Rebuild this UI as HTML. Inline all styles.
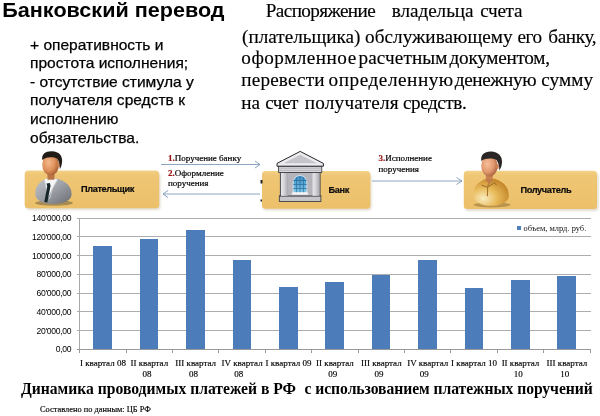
<!DOCTYPE html>
<html lang="ru"><head><meta charset="utf-8"><title>Банковский перевод</title>
<style>
html,body{margin:0;padding:0;background:#fff;}
body{width:600px;height:416px;position:relative;overflow:hidden;font-family:"Liberation Sans",sans-serif;color:#111;}
.abs{position:absolute;white-space:nowrap;}
#title{transform:scaleY(0.955);transform-origin:0 0;left:2.3px;top:-1px;font-size:21.6px;font-weight:bold;line-height:24px;color:#000;}
#left{left:30px;top:35.8px;font-size:15.55px;line-height:18.55px;color:#000;-webkit-text-stroke:0.25px #000;}
#right{left:242px;top:5px;font-family:"Liberation Serif",serif;font-size:19.2px;line-height:22px;color:#000;-webkit-text-stroke:0.15px #000;}
.rl{position:absolute;left:0;white-space:nowrap;}
.box{position:absolute;background:#f3c96f;border-radius:5px;}
.blab{position:absolute;font-size:9.2px;letter-spacing:-0.36px;font-weight:bold;color:#0c0c0c;white-space:nowrap;line-height:10px;-webkit-text-stroke:0.2px #0c0c0c;}
.alab{position:absolute;font-family:"Liberation Serif",serif;font-size:9px;line-height:10px;color:#000;white-space:nowrap;-webkit-text-stroke:0.2px #000;}
.alab b{color:#9a1818;-webkit-text-stroke:0.2px #9a1818;}
.ytick{position:absolute;font-size:8.6px;letter-spacing:-0.3px;color:#000;width:60px;text-align:right;left:11.3px;line-height:10px;}
.xlab{position:absolute;font-family:"Liberation Serif",serif;font-size:9px;line-height:11.3px;color:#000;-webkit-text-stroke:0.15px #000;text-align:center;width:46px;top:357.8px;white-space:nowrap;}
.bar{position:absolute;background:#4c7dba;width:18.6px;}
.grid{position:absolute;left:77px;width:513.5px;height:1px;background:#adadad;}
#caption,#caption2{top:379.3px;font-family:"Liberation Serif",serif;font-weight:bold;font-size:15.65px;line-height:20px;color:#000;}
#caption{left:21px;}#caption2{left:304.5px;letter-spacing:-0.05px;}
#foot{left:40px;top:405px;font-family:"Liberation Serif",serif;font-size:8.4px;line-height:10px;color:#000;-webkit-text-stroke:0.15px #000;}
</style></head><body>
<div id="title" class="abs">Банковский перевод</div>
<div id="left" class="abs">+ оперативность и<br>простота исполнения;<br>- отсутствие стимула у<br>получателя средств к<br>исполнению<br>обязательства.</div>
<div id="right" class="abs">
<span class="rl" style="top:-5.0px;left:23.8px;letter-spacing:-0.61px;">Распоряжение</span>
<span class="rl" style="top:-5.0px;left:149.8px;letter-spacing:-0.07px;">владельца</span>
<span class="rl" style="top:-5.0px;left:238.3px;letter-spacing:-0.33px;">счета</span>
<span class="rl" style="top:20.8px;left:0.0px;letter-spacing:0.00px;">(плательщика)</span>
<span class="rl" style="top:20.8px;left:123.0px;letter-spacing:0.05px;">обслуживающему</span>
<span class="rl" style="top:20.8px;left:275.5px;letter-spacing:-0.51px;">его</span>
<span class="rl" style="top:20.8px;left:306.2px;letter-spacing:-0.32px;">банку,</span>
<span class="rl" style="top:42.4px;left:-0.7px;letter-spacing:0.48px;">оформленное</span>
<span class="rl" style="top:42.4px;left:116.5px;letter-spacing:0.10px;">расчетным</span>
<span class="rl" style="top:42.4px;left:207.6px;letter-spacing:-0.26px;">документом,</span>
<span class="rl" style="top:64.4px;left:-0.7px;letter-spacing:0.15px;">перевести</span>
<span class="rl" style="top:64.4px;left:86.6px;letter-spacing:0.55px;">определенную</span>
<span class="rl" style="top:64.4px;left:212.8px;letter-spacing:-0.40px;">денежную</span>
<span class="rl" style="top:64.4px;left:299.2px;letter-spacing:0.13px;">сумму</span>
<span class="rl" style="top:87.4px;left:-0.7px;letter-spacing:-0.10px;">на</span>
<span class="rl" style="top:87.4px;left:23.2px;letter-spacing:-0.50px;">счет</span>
<span class="rl" style="top:87.4px;left:62.7px;letter-spacing:0.25px;">получателя</span>
<span class="rl" style="top:87.4px;left:161.0px;letter-spacing:-0.46px;">средств.</span>
</div>

<!-- diagram -->
<svg class="abs" style="left:0;top:0;" width="600" height="416" viewBox="0 0 600 416">
<defs>
<linearGradient id="gbox" x1="0" y1="0" x2="0" y2="1"><stop offset="0" stop-color="#f3d287"/><stop offset="0.12" stop-color="#efc675"/><stop offset="1" stop-color="#ecc06a"/></linearGradient>
<radialGradient id="gskin" cx="0.38" cy="0.4" r="0.75"><stop offset="0" stop-color="#f4b98c"/><stop offset="0.5" stop-color="#df915c"/><stop offset="1" stop-color="#8e4a22"/></radialGradient>
<linearGradient id="gsuit" x1="0" y1="0" x2="1" y2="1"><stop offset="0" stop-color="#c3c7cc"/><stop offset="0.5" stop-color="#9b9ea4"/><stop offset="1" stop-color="#686b70"/></linearGradient>
<radialGradient id="ggold" cx="0.28" cy="0.72" r="0.85"><stop offset="0" stop-color="#f8ecc0"/><stop offset="0.45" stop-color="#e8ba5a"/><stop offset="1" stop-color="#bd7c20"/></radialGradient>
<radialGradient id="gskin2" cx="0.38" cy="0.4" r="0.75"><stop offset="0" stop-color="#f6bf9a"/><stop offset="0.5" stop-color="#e39a70"/><stop offset="1" stop-color="#96502c"/></radialGradient>
<linearGradient id="gcol" x1="0" y1="0" x2="1" y2="0"><stop offset="0" stop-color="#e9e9ec"/><stop offset="0.5" stop-color="#d2d2d6"/><stop offset="1" stop-color="#a9a9ae"/></linearGradient>
<linearGradient id="gwin" x1="0" y1="0" x2="0" y2="1"><stop offset="0" stop-color="#3d8fc4"/><stop offset="1" stop-color="#7cc6ea"/></linearGradient>
<filter id="blur1" x="-20%" y="-20%" width="140%" height="140%"><feGaussianBlur stdDeviation="1.2"/></filter>
<filter id="blur03" x="-10%" y="-10%" width="120%" height="120%"><feGaussianBlur stdDeviation="0.3"/></filter>
<filter id="blur05" x="-20%" y="-20%" width="140%" height="140%"><feGaussianBlur stdDeviation="0.5"/></filter>
</defs>
<!-- box shadows -->
<g filter="url(#blur1)" fill="#d9d3c4" opacity="0.8">
<rect x="26" y="173" width="134.500" height="37" rx="4"/>
<rect x="263" y="174" width="108.500" height="36.500" rx="4"/>
<rect x="465" y="173" width="133.500" height="38" rx="4"/>
</g>
<!-- boxes -->
<rect x="24.700" y="170.500" width="134.500" height="37.800" rx="3.500" fill="url(#gbox)"/>
<rect x="262" y="171" width="108.400" height="37.800" rx="3.500" fill="url(#gbox)"/>
<rect x="463.800" y="170.800" width="133.200" height="38.300" rx="3.500" fill="url(#gbox)"/>
<!-- arrows -->
<g stroke="#7f9bb9" stroke-width="0.9" fill="none">
<path d="M161,164.5 H260 M255,161 L260,164.500 L255,168"/>
<path d="M260,194 H163 M168,190.500 L163,194 L168,197.500"/>
<path d="M372,181 H462 M456.500,177.500 L462,181 L456.500,184.500"/>
</g>
<g fill="#222"><rect x="260.500" y="180" width="2" height="3.500"/><rect x="260.500" y="199.500" width="1.500" height="2"/></g>

<!-- person 1 -->
<g filter="url(#blur05)" transform="translate(0,151) scale(1,1.045) translate(0,-151)">
<ellipse cx="54" cy="200.800" rx="19" ry="2.600" fill="#6e5f3f" opacity="0.550"/>
<path d="M35.300,192.500 C35,184 40,179.800 47.300,177.300 L56.700,177.300 C65,179.800 71.800,184 71.600,192.500 C71.600,198.500 63.500,201.800 53.500,201.800 C43.500,201.800 35.300,198.500 35.300,192.500 Z" fill="url(#gsuit)"/>
<path d="M44.300,178.300 L51.500,176 L57.500,178.300 L52.500,187 L48,195.500 L46,186 Z" fill="#f6f6f6"/>
<path d="M44.300,178.300 L46,186 L47.500,197 M57.500,178.300 L52.500,187 L49.500,197" stroke="#c9ccd1" stroke-width="0.900" fill="none"/>
<path d="M46.600,182 L49.800,181.600 L50.600,184.300 L47.300,200.300 L44.300,199.800 L47.200,185 Z" fill="#17282b"/>
<rect x="47.500" y="171" width="7" height="7.500" fill="#b97446"/>
<ellipse cx="50.600" cy="164" rx="8.400" ry="10.300" fill="url(#gskin)"/>
<ellipse cx="58.700" cy="164.300" rx="1.400" ry="2.500" fill="#cf8552"/>
<path d="M42.300,159.500 C41.300,153.800 45.500,151 52,151.200 C59,151.400 62.600,155.500 62.100,161 C61.900,164.500 60.800,167 59.800,168.500 C60,164.500 59.300,160.800 57.300,158.300 C53,156.600 47,156.300 42.300,159.500 Z" fill="#241c19"/>
</g>

<!-- person 2 -->
<g filter="url(#blur05)" transform="translate(0,151) scale(1,1.05) translate(0,-151)">
<ellipse cx="492" cy="202.300" rx="18.500" ry="2.600" fill="#8a6a30" opacity="0.500"/>
<path d="M473.600,193.500 C473.400,185 478,180.500 486,177.500 L495,177.500 C503,180.500 509,185 508.800,193.500 C508.800,199.500 501,203.200 491.200,203.200 C481.500,203.200 473.600,199.500 473.600,193.500 Z" fill="url(#ggold)"/>
<path d="M481.500,183.500 L487.500,185.500 L488.500,182 M487.500,185.500 L494.500,181 L496.500,183.500 M487.600,185.500 L487.400,194" stroke="#a8752b" stroke-width="1.100" fill="none"/>
<rect x="485.800" y="172" width="7" height="8" fill="#c8824f"/>
<path d="M485.800,178 L489.500,183 L492.800,178 Z" fill="#c07a48"/>
<ellipse cx="489.400" cy="165.300" rx="8.200" ry="10" fill="url(#gskin2)"/>
<ellipse cx="497.500" cy="165.800" rx="1.400" ry="2.500" fill="#cf8552"/>
<path d="M481.300,160.500 C480.300,154.500 484.500,151.200 491,151.400 C498.500,151.700 502.500,156 502,162 C501.800,165.500 500.500,168 499.300,169.500 C499.500,165.500 498.500,162 496.500,159.500 C492,157.800 486,157.500 481.300,160.500 Z" fill="#2b2826"/>
</g>

<!-- bank -->
<g filter="url(#blur03)">
<rect x="279.300" y="195.800" width="41.600" height="5.700" fill="#c6c6ca" stroke="#2e2e32" stroke-width="0.800"/>
<rect x="280.300" y="172" width="39.800" height="24" fill="#b4b4ba" stroke="#2e2e32" stroke-width="0.800"/>
<rect x="281" y="172.300" width="6.800" height="23.500" fill="url(#gcol)"/>
<rect x="312.600" y="172.300" width="6.800" height="23.500" fill="url(#gcol)"/>
<rect x="278.600" y="166" width="43.200" height="6.500" fill="#d8d8dc" stroke="#2e2e32" stroke-width="0.800"/>
<path d="M279,168.200 H321.400 M279,170.300 H321.400" stroke="#9d9da3" stroke-width="0.600"/>
<path d="M277,163.400 L300.200,151.400 L323.400,163.400 L323.400,166.200 L277,166.200 Z" fill="#ececef" stroke="#242428" stroke-width="1" stroke-linejoin="round"/>
<path d="M283.500,163.300 L300.200,154.800 L316.900,163.300 Z" fill="#c4c4ca"/>
<path d="M293.200,192.500 V182.300 A6.800,6.800 0 0 1 306.800,182.300 V192.500 Z" fill="url(#gwin)" stroke="#dfe8f0" stroke-width="0.900"/>
<path d="M296.600,177.300 V192.500 M300,176 V192.500 M303.400,177.300 V192.500 M293.200,180.500 H306.800 M293.200,184.500 H306.800 M293.200,188.500 H306.800" stroke="#1f5f8f" stroke-width="0.700" opacity="0.850"/>
<rect x="291.800" y="192.500" width="16.400" height="2.200" fill="#f4f4f6"/>
</g>
</svg>
<div class="blab" style="left:81px;top:184.300px;">Плательщик</div>
<div class="blab" style="left:328.500px;top:185.200px;">Банк</div>
<div class="blab" style="left:520.500px;top:184.500px;">Получатель</div>
<div class="alab" style="left:168px;top:153px;"><b>1.</b>Поручение банку</div>
<div class="alab" style="left:168px;top:168px;"><b>2.</b>Оформление<br>поручения</div>
<div class="alab" style="left:378.5px;top:153px;line-height:11px;"><b>3.</b>Исполнение<br>поручения</div>

<!-- chart -->
<div id="chart">
<div class="grid" style="top:348.9px;background:#9a9a9a;"></div>
<div class="ytick" style="top:344.2px;">0,00</div>
<div class="grid" style="top:330.2px;"></div>
<div class="ytick" style="top:325.5px;">20'000,00</div>
<div class="grid" style="top:311.4px;"></div>
<div class="ytick" style="top:306.7px;">40'000,00</div>
<div class="grid" style="top:292.7px;"></div>
<div class="ytick" style="top:288.0px;">60'000,00</div>
<div class="grid" style="top:273.9px;"></div>
<div class="ytick" style="top:269.2px;">80'000,00</div>
<div class="grid" style="top:255.2px;"></div>
<div class="ytick" style="top:250.5px;">100'000,00</div>
<div class="grid" style="top:236.4px;"></div>
<div class="ytick" style="top:231.7px;">120'000,00</div>
<div class="grid" style="top:217.7px;"></div>
<div class="ytick" style="top:213.0px;">140'000,00</div>
<div style="position:absolute;left:79.2px;top:218.2px;width:1px;height:131.2px;background:#a8a8a8;"></div>
<div class="bar" style="left:93.4px;top:246.3px;height:103.1px;"></div>
<div class="xlab" style="left:79.9px;">I квартал 08</div>
<div style="position:absolute;left:79.2px;top:349.4px;width:1px;height:4px;background:#9a9a9a;"></div>
<div class="bar" style="left:139.8px;top:238.8px;height:110.6px;"></div>
<div class="xlab" style="left:126.3px;">II квартал<br>08&nbsp;&nbsp;</div>
<div style="position:absolute;left:125.6px;top:349.4px;width:1px;height:4px;background:#9a9a9a;"></div>
<div class="bar" style="left:186.2px;top:230.4px;height:119.0px;"></div>
<div class="xlab" style="left:172.7px;">III квартал<br>08&nbsp;&nbsp;</div>
<div style="position:absolute;left:172.0px;top:349.4px;width:1px;height:4px;background:#9a9a9a;"></div>
<div class="bar" style="left:232.6px;top:260.4px;height:89.0px;"></div>
<div class="xlab" style="left:219.1px;">IV квартал<br>08&nbsp;&nbsp;&nbsp;</div>
<div style="position:absolute;left:218.4px;top:349.4px;width:1px;height:4px;background:#9a9a9a;"></div>
<div class="bar" style="left:279.0px;top:286.6px;height:62.8px;"></div>
<div class="xlab" style="left:265.5px;">I квартал 09</div>
<div style="position:absolute;left:264.8px;top:349.4px;width:1px;height:4px;background:#9a9a9a;"></div>
<div class="bar" style="left:325.4px;top:281.9px;height:67.5px;"></div>
<div class="xlab" style="left:311.9px;">II квартал<br>09&nbsp;&nbsp;</div>
<div style="position:absolute;left:311.2px;top:349.4px;width:1px;height:4px;background:#9a9a9a;"></div>
<div class="bar" style="left:371.8px;top:275.4px;height:74.0px;"></div>
<div class="xlab" style="left:358.3px;">III квартал<br>09&nbsp;&nbsp;</div>
<div style="position:absolute;left:357.6px;top:349.4px;width:1px;height:4px;background:#9a9a9a;"></div>
<div class="bar" style="left:418.2px;top:260.4px;height:89.0px;"></div>
<div class="xlab" style="left:404.7px;">IV квартал<br>09&nbsp;&nbsp;&nbsp;</div>
<div style="position:absolute;left:404.0px;top:349.4px;width:1px;height:4px;background:#9a9a9a;"></div>
<div class="bar" style="left:464.6px;top:287.5px;height:61.9px;"></div>
<div class="xlab" style="left:451.1px;">I квартал 10</div>
<div style="position:absolute;left:450.4px;top:349.4px;width:1px;height:4px;background:#9a9a9a;"></div>
<div class="bar" style="left:511.0px;top:280.1px;height:69.3px;"></div>
<div class="xlab" style="left:497.5px;">II квартал<br>10&nbsp;&nbsp;</div>
<div style="position:absolute;left:496.8px;top:349.4px;width:1px;height:4px;background:#9a9a9a;"></div>
<div class="bar" style="left:557.4px;top:276.3px;height:73.1px;"></div>
<div class="xlab" style="left:543.9px;">III квартал<br>10&nbsp;&nbsp;</div>
<div style="position:absolute;left:543.2px;top:349.4px;width:1px;height:4px;background:#9a9a9a;"></div>
<div style="position:absolute;left:589.6px;top:349.4px;width:1px;height:4px;background:#9a9a9a;"></div>
<div style="position:absolute;left:516.5px;top:226px;width:4px;height:4px;background:#4f81bd;"></div>
<div class="abs" style="left:523.5px;top:222.8px;font-family:'Liberation Serif',serif;font-size:8.45px;line-height:10px;color:#111;">объем, млрд. руб.</div>
</div><!--endchart-->
<div id="caption" class="abs">Динамика проводимых платежей в РФ</div>
<div id="caption2" class="abs">с использованием платежных поручений</div>
<div id="foot" class="abs">Составлено по данным: ЦБ РФ</div>
</body></html>
